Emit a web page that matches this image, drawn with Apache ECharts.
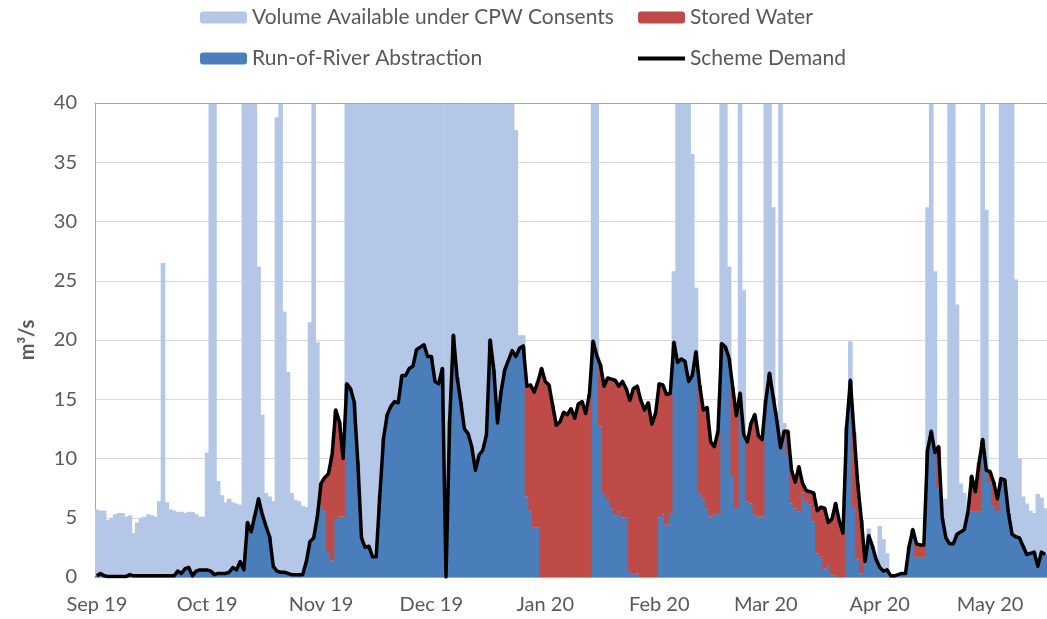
<!DOCTYPE html>
<html>
<head>
<meta charset="utf-8">
<title>Scheme Demand</title>
<script src="https://cdn.jsdelivr.net/npm/echarts@6/dist/echarts.min.js"></script>
<style>
  html, body { margin: 0; padding: 0; background: #fff; }
  #chart { width: 1047px; height: 619px; }
</style>
</head>
<body>
<div id="chart"></div>
<script>
// daily values from 1 Sep 2019, m3/s
const startDate = '2019-09-01';

const volumeAvailable = [
  5.7, 5.6, 5.6, 4.8, 5.0, 5.3, 5.4, 5.4, 5.1, 5.2,
  3.7, 4.6, 5.0, 5.1, 5.3, 5.2, 5.1, 6.4, 26.5, 6.3,
  5.7, 5.6, 5.5, 5.5, 5.4, 5.5, 5.5, 5.3, 5.1, 5.1,
  10.5, 40, 40, 8.1, 6.9, 6.3, 6.6, 6.3, 6.2, 6.1,
  40, 40, 40, 40, 26.2, 13.7, 7.1, 6.8, 6.4, 38.8,
  40, 22.4, 17.3, 7.1, 6.5, 6.4, 6.0, 5.9, 21.5, 40,
  19.8, 6.0, 5.5, 2.1, 1.4, 4.9, 5.1, 5.1, 40, 40,
  40, 40, 40, 40, 40, 40, 40, 40, 40, 40,
  40, 40, 40, 40, 40, 40, 40, 40, 40, 40,
  40, 40, 40, 40, 40, 40, 40, 40, 40, 40,
  40, 40, 40, 40, 40, 40, 40, 40, 40, 40,
  40, 40, 40, 40, 37.7, 20.4, 20.4, 6.8, 5.6, 4.2,
  4.2, 0, 0, 0, 0, 0, 0, 0, 0, 0,
  0, 0, 0, 0, 0, 40, 40, 12.7, 7.0, 6.5,
  5.8, 5.2, 5.5, 5.0, 5.0, 0.5, 0.2, 0.3, 0, 0,
  0, 0, 0, 5.0, 5.3, 4.4, 5.4, 25.8, 40, 40,
  40, 40, 35.7, 24.4, 7.0, 6.6, 5.8, 5.1, 5.3, 5.3,
  40, 40, 26.2, 8.6, 5.9, 40, 24.2, 6.4, 6.2, 5.3,
  5.1, 5.1, 40, 40, 31.2, 14.0, 40, 13.0, 10.3, 6.2,
  5.8, 5.5, 7.1, 6.4, 6.1, 4.7, 2.0, 1.7, 0.7, 1.0,
  0.2, 0.1, 0, 0, 12.7, 19.9, 5.9, 1.5, 0.3, 1.3,
  4.1, 2.6, 1.5, 4.3, 3.2, 2.0, 0.1, 0.1, 0.2, 0.3,
  0.3, 2.6, 4.0, 1.7, 1.7, 1.7, 31.2, 40, 25.8, 7.5,
  6.6, 6.6, 40, 40, 23.0, 7.9, 7.1, 5.5, 5.5, 5.5,
  5.5, 40, 31.0, 8.0, 6.0, 5.5, 40, 40, 40, 40,
  25.1, 10.0, 6.8, 6.2, 5.6, 5.4, 7.0, 6.7, 5.8
];

const runOfRiver = [
  0.1, 0.3, 0.1, 0.05, 0.05, 0.05, 0.05, 0.05, 0.05, 0.2,
  0.1, 0.1, 0.1, 0.1, 0.1, 0.1, 0.1, 0.1, 0.1, 0.1,
  0.1, 0.1, 0.5, 0.3, 0.7, 0.8, 0.1, 0.5, 0.6, 0.6,
  0.6, 0.5, 0.2, 0.3, 0.3, 0.3, 0.4, 0.8, 0.6, 1.3,
  0.6, 4.6, 3.8, 5.2, 6.6, 5.3, 4.3, 3.4, 0.9, 0.5,
  0.4, 0.4, 0.3, 0.2, 0.2, 0.2, 0.2, 1.3, 3.0, 3.3,
  5.1, 6.0, 5.5, 2.1, 1.4, 4.9, 5.1, 5.1, 16.3, 15.9,
  14.8, 9.7, 3.3, 2.5, 2.6, 1.7, 1.7, 6.9, 11.7, 13.7,
  14.4, 14.8, 14.7, 17.0, 17.0, 17.6, 17.8, 19.2, 19.4, 19.6,
  18.6, 18.6, 16.5, 16.3, 17.6, 0, 13.2, 20.4, 16.9, 14.8,
  12.5, 12.1, 11.0, 9.0, 10.3, 10.7, 12.0, 20.0, 17.5, 13.0,
  15.7, 17.5, 18.3, 19.1, 18.6, 19.3, 19.5, 6.8, 5.6, 4.2,
  4.2, 0, 0, 0, 0, 0, 0, 0, 0, 0,
  0, 0, 0, 0, 0, 19.9, 18.7, 12.7, 7.0, 6.5,
  5.8, 5.2, 5.5, 5.0, 5.0, 0.5, 0.2, 0.3, 0, 0,
  0, 0, 0, 5.0, 5.3, 4.4, 5.4, 19.8, 18.1, 18.4,
  18.2, 16.5, 17.0, 19.0, 7.0, 6.6, 5.8, 5.1, 5.3, 5.3,
  19.7, 19.4, 18.5, 8.6, 5.9, 15.5, 12.0, 6.4, 6.2, 5.3,
  5.1, 5.1, 14.9, 17.2, 15.2, 13.2, 10.9, 12.3, 10.3, 6.2,
  5.8, 5.5, 7.1, 6.4, 6.1, 4.7, 2.0, 1.7, 0.7, 1.0,
  0.2, 0.1, 0, 0, 12.7, 16.6, 5.9, 1.5, 0.3, 1.3,
  3.5, 2.6, 1.5, 0.8, 0.5, 0.6, 0.1, 0.1, 0.2, 0.3,
  0.3, 2.6, 4.0, 1.7, 1.7, 1.7, 10.7, 12.3, 10.5, 7.5,
  5.0, 3.3, 2.8, 2.8, 3.6, 3.8, 4.0, 5.5, 5.5, 5.5,
  5.5, 11.6, 9.0, 8.0, 6.0, 5.5, 8.3, 8.2, 5.4, 3.6,
  3.4, 3.3, 2.6, 1.9, 2.0, 2.1, 0.9, 2.1, 1.9
];

const storedWater = [
  0, 0, 0, 0, 0, 0, 0, 0, 0, 0,
  0, 0, 0, 0, 0, 0, 0, 0, 0, 0,
  0, 0, 0, 0, 0, 0, 0, 0, 0, 0,
  0, 0, 0, 0, 0, 0, 0, 0, 0, 0,
  0, 0, 0, 0, 0, 0, 0, 0, 0, 0,
  0, 0, 0, 0, 0, 0, 0, 0, 0, 0,
  0, 1.9, 2.9, 6.6, 8.9, 9.2, 8.0, 4.9, 0, 0,
  0, 0, 0, 0, 0, 0, 0, 0, 0, 0,
  0, 0, 0, 0, 0, 0, 0, 0, 0, 0,
  0, 0, 0, 0, 0, 0, 0, 0, 0, 0,
  0, 0, 0, 0, 0, 0, 0, 0, 0, 0,
  0, 0, 0, 0, 0, 0, 0, 9.3, 10.6, 11.4,
  12.3, 17.6, 16.5, 16.2, 14.5, 12.8, 13.1, 13.9, 13.7, 14.2,
  13.4, 14.6, 14.8, 13.8, 15.4, 0, 0, 5.2, 9.1, 10.3,
  10.9, 11.4, 10.6, 11.5, 10.9, 14.4, 15.7, 15.8, 14.9, 14.1,
  14.7, 12.9, 13.8, 11.3, 10.9, 11.0, 10.1, 0, 0, 0,
  0, 0, 0, 0, 9.2, 7.5, 8.5, 6.3, 5.7, 7.0,
  0, 0, 0, 7.4, 7.7, 0, 0, 5.0, 6.8, 8.4,
  6.8, 6.5, 0, 0, 0, 0, 0, 0, 2.0, 2.8,
  2.2, 3.8, 0.8, 0.9, 1.1, 2.4, 3.6, 4.2, 5.1, 3.6,
  4.7, 6.1, 4.7, 3.7, 0, 0, 6.3, 6.4, 4.5, 0,
  0, 0, 0, 0, 0, 0, 0, 0, 0, 0,
  0, 0, 0, 1.1, 1.0, 1.0, 0, 0, 0, 3.5,
  0, 0, 0, 0, 0, 0, 0, 0, 3.0, 1.7,
  4.1, 0, 0, 0.9, 2.0, 1.1, 0, 0, 0, 0,
  0, 0, 0, 0, 0, 0, 0, 0, 0
];

const schemeDemand = [
  0.1, 0.3, 0.1, 0.05, 0.05, 0.05, 0.05, 0.05, 0.05, 0.2,
  0.1, 0.1, 0.1, 0.1, 0.1, 0.1, 0.1, 0.1, 0.1, 0.1,
  0.1, 0.1, 0.5, 0.3, 0.7, 0.8, 0.1, 0.5, 0.6, 0.6,
  0.6, 0.5, 0.2, 0.3, 0.3, 0.3, 0.4, 0.8, 0.6, 1.3,
  0.6, 4.6, 3.8, 5.2, 6.6, 5.3, 4.3, 3.4, 0.9, 0.5,
  0.4, 0.4, 0.3, 0.2, 0.2, 0.2, 0.2, 1.3, 3.0, 3.3,
  5.1, 7.9, 8.4, 8.7, 10.3, 14.1, 13.1, 10.0, 16.3, 15.9,
  14.8, 9.7, 3.3, 2.5, 2.6, 1.7, 1.7, 6.9, 11.7, 13.7,
  14.4, 14.8, 14.7, 17.0, 17.0, 17.6, 17.8, 19.2, 19.4, 19.6,
  18.6, 18.6, 16.5, 16.3, 17.6, 0, 13.2, 20.4, 16.9, 14.8,
  12.5, 12.1, 11.0, 9.0, 10.3, 10.7, 12.0, 20.0, 17.5, 13.0,
  15.7, 17.5, 18.3, 19.1, 18.6, 19.3, 19.5, 16.1, 16.2, 15.6,
  16.5, 17.6, 16.5, 16.2, 14.5, 12.8, 13.1, 13.9, 13.7, 14.2,
  13.4, 14.6, 14.8, 13.8, 15.4, 19.9, 18.7, 17.9, 16.1, 16.8,
  16.7, 16.6, 16.1, 16.5, 15.9, 14.9, 15.9, 16.1, 14.9, 14.1,
  14.7, 12.9, 13.8, 16.3, 16.2, 15.4, 15.5, 19.8, 18.1, 18.4,
  18.2, 16.5, 17.0, 19.0, 16.2, 14.1, 14.3, 11.4, 11.0, 12.3,
  19.7, 19.4, 18.5, 16.0, 13.6, 15.5, 12.0, 11.4, 13.0, 13.7,
  11.9, 11.6, 14.9, 17.2, 15.2, 13.2, 10.9, 12.3, 12.3, 9.0,
  8.0, 9.3, 7.9, 7.3, 7.2, 7.1, 5.6, 5.9, 5.8, 4.6,
  4.9, 6.2, 4.7, 3.7, 12.7, 16.6, 12.2, 7.9, 4.8, 1.3,
  3.5, 2.6, 1.5, 0.8, 0.5, 0.6, 0.1, 0.1, 0.2, 0.3,
  0.3, 2.6, 4.0, 2.8, 2.7, 2.7, 10.7, 12.3, 10.5, 11.0,
  5.0, 3.3, 2.8, 2.8, 3.6, 3.8, 4.0, 5.5, 8.5, 7.2,
  9.6, 11.6, 9.0, 8.9, 8.0, 6.6, 8.3, 8.2, 5.4, 3.6,
  3.4, 3.3, 2.6, 1.9, 2.0, 2.1, 0.9, 2.1, 1.9
];

const monthNames = ['Jan', 'Feb', 'Mar', 'Apr', 'May', 'Jun', 'Jul', 'Aug', 'Sep', 'Oct', 'Nov', 'Dec'];
const yTicks = { min: 0, max: 40, step: 5 };

// one category per day
const days = [];
const d0 = new Date(startDate + 'T00:00:00Z');
for (let i = 0; i < schemeDemand.length; i++) {
  const d = new Date(d0.getTime() + i * 86400000);
  days.push(d.toISOString().slice(0, 10));
}
const isMonthStart = (idx, value) => value.slice(8, 10) === '01';

const font = 'Lato, "Liberation Sans", sans-serif';
const textGrey = '#595959';
const legendText = { fontSize: 21, lineHeight: 20, color: textGrey, fontFamily: font };

// columns a bit wider than a day so neighbouring days touch without seams
const colWidth = '125%';

const chart = echarts.init(document.getElementById('chart'));
chart.setOption({
  animation: false,
  textStyle: { fontFamily: font },
  legend: [
    {
      orient: 'vertical', left: 200, top: 7, padding: 0,
      itemWidth: 47, itemHeight: 12, itemGap: 20,
      textStyle: legendText,
      data: ['Volume Available under CPW Consents', 'Run-of-River Abstraction'],
    },
    {
      orient: 'vertical', left: 638, top: 7, padding: 0,
      itemWidth: 47, itemHeight: 12, itemGap: 20,
      textStyle: legendText,
      data: [
        'Stored Water',
        { name: 'Scheme Demand', icon: 'path://M0,0H47V4H0Z' },
      ],
    },
  ],
  grid: { left: 95, right: -1, top: 103, bottom: 42 },
  xAxis: [
    {
      type: 'category',
      data: days,
      boundaryGap: true,
      axisLine: { lineStyle: { color: '#A6A6A6', width: 1 } },
      axisTick: { interval: isMonthStart, length: 6, lineStyle: { color: '#A6A6A6' } },
      axisLabel: {
        interval: isMonthStart,
        margin: 18,
        fontSize: 20,
        color: textGrey,
        fontFamily: font,
        formatter: (v) => monthNames[+v.slice(5, 7) - 1] + ' ' + v.slice(2, 4),
      },
      splitLine: { show: false },
    },
    {
      // top frame of the plot area
      type: 'category',
      data: days,
      position: 'top',
      z: 10,
      axisLine: { lineStyle: { color: '#A6A6A6', width: 1 } },
      axisTick: { show: false },
      axisLabel: { show: false },
    },
  ],
  yAxis: {
    type: 'value',
    min: yTicks.min,
    max: yTicks.max,
    interval: yTicks.step,
    name: 'm³/s',
    nameLocation: 'middle',
    nameRotate: 90,
    nameGap: 57,
    nameTextStyle: { fontSize: 20, fontWeight: 'bold', color: textGrey, fontFamily: font },
    axisLine: { show: true, lineStyle: { color: '#A6A6A6' } },
    axisTick: { show: false },
    axisLabel: { fontSize: 20, color: textGrey, margin: 18, fontFamily: font },
    splitLine: { lineStyle: { color: '#D9D9D9', width: 1 } },
  },
  series: [
    {
      name: 'Volume Available under CPW Consents',
      type: 'bar',
      data: volumeAvailable,
      itemStyle: { color: '#B4C7E7' },
      barWidth: colWidth,
      barGap: '-100%',
    },
    {
      name: 'Run-of-River Abstraction',
      type: 'bar',
      stack: 'supply',
      data: runOfRiver,
      itemStyle: { color: '#4A7EBB' },
      barWidth: colWidth,
      barGap: '-100%',
    },
    {
      name: 'Stored Water',
      type: 'bar',
      stack: 'supply',
      data: storedWater,
      itemStyle: { color: '#BE4B48' },
      barWidth: colWidth,
      barGap: '-100%',
    },
    {
      name: 'Scheme Demand',
      type: 'line',
      data: schemeDemand,
      symbol: 'none',
      z: 5,
      lineStyle: { color: '#000000', width: 3.5, join: 'round' },
      itemStyle: { color: '#000000' },
    },
  ],
});
</script>
</body>
</html>
